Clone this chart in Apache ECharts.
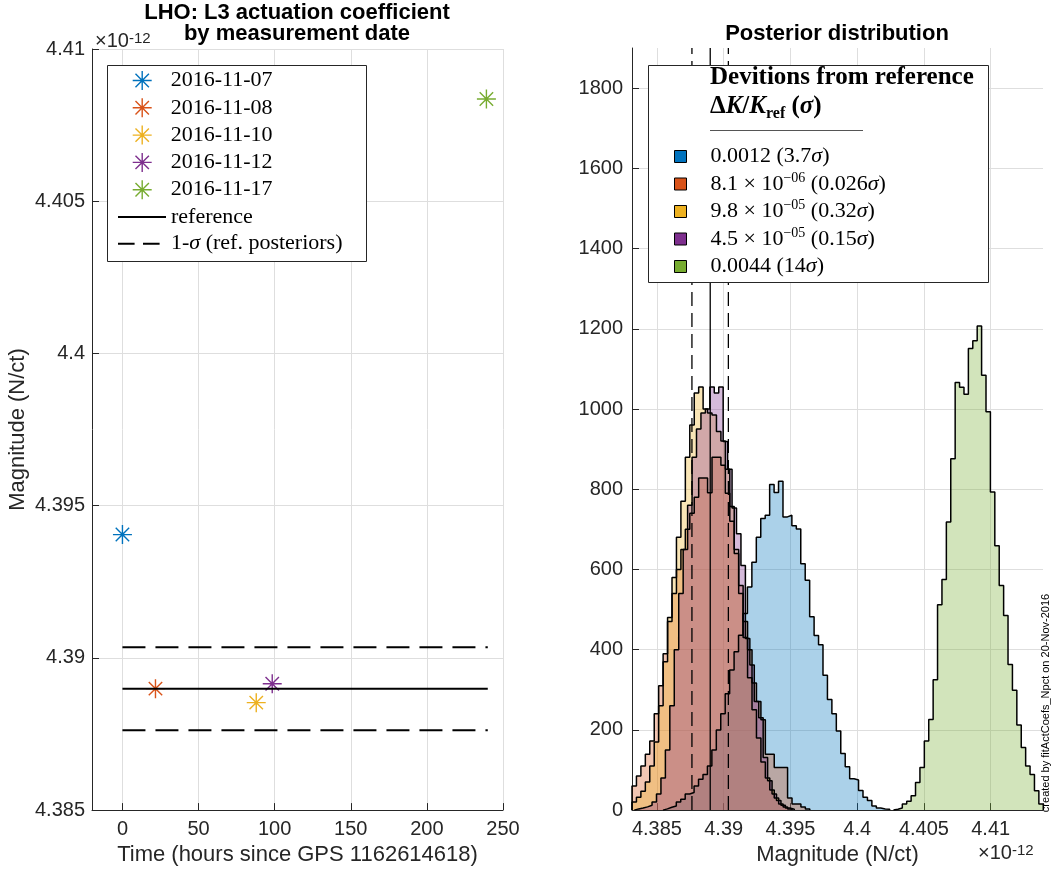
<!DOCTYPE html>
<html><head><meta charset="utf-8">
<script src="https://cdn.jsdelivr.net/npm/echarts@6/dist/echarts.min.js"></script>
<style>html,body{margin:0;padding:0;background:#fff}#c{width:1052px;height:871px}</style>
</head><body><div id="c"></div>
<script>
// ---------------- data (magnitudes in units of 1e-12 N/ct) ----------------
const dates = ['2016-11-07', '2016-11-08', '2016-11-10', '2016-11-12', '2016-11-17'];
const hours = [0, 21.7, 87.9, 98.4, 239.1];
const magnitudes = [4.39405, 4.38899, 4.38853, 4.38915, 4.40836];
const refValue = 4.38899;
const sigmaLow = 4.38762;
const sigmaHigh = 4.39035;
const refHours = [0, 240];
const leftXTicks = [0, 50, 100, 150, 200, 250];
const leftYTicks = [4.385, 4.39, 4.395, 4.4, 4.405, 4.41];
const rightXTicks = [4.385, 4.39, 4.395, 4.4, 4.405, 4.41];
const rightYTicks = [0, 200, 400, 600, 800, 1000, 1200, 1400, 1600, 1800];
const deviationNames = ['0.0012 (3.7σ)', '8.1 × 10^−06 (0.026σ)', '9.8 × 10^−05 (0.32σ)', '4.5 × 10^−05 (0.15σ)', '0.0044 (14σ)'];
const lineNames = ['reference', '1-σ (ref. posteriors)'];

// histogram bins: first bin left edge, bin width, counts per bin
const blueStart = 4.38545, blueWidth = 0.000333;
const blueCounts = [3,7,10,20,27,40,44,60,77,89,110,150,200,240,290,349,395,436,490,556,618,680,727,735,812,792,820,731,735,709,701,614,573,482,435,412,336,276,240,197,141,108,78,75,49,32,24,10,5,3,2];
const orangeStart = 4.38313, orangeWidth = 0.000333;
const orangeCounts = [60,85,110,139,172,240,310,390,470,540,600,650,700,740,780,828,828,791,880,880,860,790,720,640,560,470,400,317,271,225,139,139,106,106,106,30,15,15,8,3];
const yellowStart = 4.38313, yellowWidth = 0.000333;
const yellowCounts = [20,32,47,70,110,170,260,370,480,580,680,770,880,960,1040,1055,1000,990,985,944,920,850,757,650,540,430,330,250,180,120,80,50,30,15,8,3];
const purpleStart = 4.38330, purpleWidth = 0.000333;
const purpleCounts = [3,5,8,12,20,40,80,150,260,400,540,650,760,880,950,990,1000,1055,1040,1055,919,850,753,689,610,428,362,271,230,131,73,40,24,12,5,2];
const greenStart = 4.40272, greenWidth = 0.00033;
const greenCounts = [2,5,15,22,36,69,106,172,226,325,512,575,718,876,1066,1054,1037,1151,1170,1207,1084,993,793,659,560,485,363,299,212,156,110,89,48,15];

// ---------------- styling ----------------
const COLORS = ['#0072BD', '#D95319', '#EDB120', '#7E2F8E', '#77AC30'];
const FILLS = ['rgba(0,114,189,0.33)', 'rgba(217,83,25,0.33)', 'rgba(237,177,32,0.33)', 'rgba(126,47,142,0.33)', 'rgba(119,172,48,0.33)'];
const AX = '#262626', GRID = '#dedede';
const SANS = 'Liberation Sans', SERIF = 'Liberation Serif';
const STAR = 'path://M0,-10L0,10M-10,0L10,0M-7.07,-7.07L7.07,7.07M-7.07,7.07L7.07,-7.07';
const LEFT_DASH = [23, 10], LEGEND_DASH = [16.6, 8.4], RIGHT_DASH = [14, 7];

function histData(start, width, counts) {
  const d = [[start, 0]];
  counts.forEach((c, i) => d.push([start + i * width, c]));
  d.push([start + counts.length * width, 0]);
  return d;
}
const hists = [
  [blueStart, blueWidth, blueCounts],
  [orangeStart, orangeWidth, orangeCounts],
  [yellowStart, yellowWidth, yellowCounts],
  [purpleStart, purpleWidth, purpleCounts],
  [greenStart, greenWidth, greenCounts]
];
const fmt3 = v => String(+(+v).toFixed(3));

function axisCommon(grid, ticks, fmt, margin) {
  return {
    type: 'value', gridIndex: grid,
    axisLine: { show: true, onZero: false, lineStyle: { color: AX, width: 1 } },
    axisTick: { show: true, inside: true, length: 7, customValues: ticks, lineStyle: { color: AX } },
    axisLabel: { customValues: ticks, formatter: fmt, color: AX, fontSize: 20, fontFamily: SANS, margin: margin },
    splitLine: { show: true, lineStyle: { color: GRID, width: 1 } }
  };
}

const series = [];
// left plot: reference lines
series.push({ name: lineNames[0], type: 'line', xAxisIndex: 0, yAxisIndex: 0, symbol: 'none', animation: false,
  data: [[refHours[0], refValue], [refHours[1], refValue]], lineStyle: { color: '#000', width: 2 } });
series.push({ name: lineNames[1], type: 'line', xAxisIndex: 0, yAxisIndex: 0, symbol: 'none', animation: false,
  data: [[refHours[0], sigmaHigh], [refHours[1], sigmaHigh]], lineStyle: { color: '#000', width: 2, type: LEFT_DASH } });
series.push({ name: lineNames[1], type: 'line', xAxisIndex: 0, yAxisIndex: 0, symbol: 'none', animation: false,
  data: [[refHours[0], sigmaLow], [refHours[1], sigmaLow]], lineStyle: { color: '#000', width: 2, type: LEFT_DASH } });
// left plot: measurements
dates.forEach((d, i) => series.push({
  name: d, type: 'scatter', xAxisIndex: 0, yAxisIndex: 0, symbol: STAR, symbolSize: 19, animation: false,
  data: [[hours[i], magnitudes[i]]],
  itemStyle: { color: COLORS[i], borderColor: COLORS[i], borderWidth: 1.4, opacity: 1 }
}));
// right plot: histograms
hists.forEach((h, i) => series.push({
  name: deviationNames[i], type: 'line', step: 'end', xAxisIndex: 1, yAxisIndex: 1, symbol: 'none', animation: false,
  data: histData(h[0], h[1], h[2]),
  lineStyle: { color: '#000', width: 1.5 }, itemStyle: { color: COLORS[i] },
  areaStyle: { color: FILLS[i], opacity: 1 }
}));
// right plot: reference lines
[[refValue, 'solid'], [sigmaLow, RIGHT_DASH], [sigmaHigh, RIGHT_DASH]].forEach((r, k) => series.push({
  name: 'refR' + k, type: 'line', xAxisIndex: 1, yAxisIndex: 1, symbol: 'none', animation: false,
  data: [[r[0], 0], [r[0], 1900]], lineStyle: { color: '#000', width: 1.3, type: r[1] }
}));

const serifRich = {
  i: { fontFamily: SERIF, fontStyle: 'italic', fontSize: 22, color: '#000', lineHeight: 26 },
  sup: { fontFamily: SERIF, fontSize: 14, color: '#000', lineHeight: 14, verticalAlign: 'top' }
};
const HIDE = { color: 'rgba(0,0,0,0)', borderColor: 'rgba(0,0,0,0)', borderWidth: 0, opacity: 0 };

const option = {
  backgroundColor: '#fff',
  animation: false,
  title: [
    { text: 'LHO: L3 actuation coefficient\nby measurement date', left: 297, top: 2, textAlign: 'center', padding: 0,
      textStyle: { fontSize: 22, fontWeight: 'bold', fontFamily: SANS, color: '#000', lineHeight: 21 } },
    { text: 'Posterior distribution', left: 837, top: 23, textAlign: 'center', padding: 0,
      textStyle: { fontSize: 22, fontWeight: 'bold', fontFamily: SANS, color: '#000', lineHeight: 21 } }
  ],
  grid: [
    { left: 92, top: 49, width: 411, height: 766 },
    { left: 632, top: 48, width: 411, height: 768 }
  ],
  xAxis: [
    Object.assign(axisCommon(0, leftXTicks, v => String(v), 9), { min: -20, max: 250,
      name: 'Time (hours since GPS 1162614618)', nameLocation: 'middle', nameGap: 28,
      nameTextStyle: { fontSize: 22, fontFamily: SANS, color: AX } }),
    Object.assign(axisCommon(1, rightXTicks, fmt3, 9), { min: 4.38313, max: 4.41392,
      name: 'Magnitude (N/ct)', nameLocation: 'middle', nameGap: 26,
      nameTextStyle: { fontSize: 22, fontFamily: SANS, color: AX } })
  ],
  yAxis: [
    Object.assign(axisCommon(0, leftYTicks, fmt3, 7), { min: 4.385, max: 4.41,
      name: 'Magnitude (N/ct)', nameLocation: 'middle', nameGap: 63,
      nameTextStyle: { fontSize: 22, fontFamily: SANS, color: AX } }),
    Object.assign(axisCommon(1, rightYTicks, v => String(v), 9), { min: 0, max: 1900 })
  ],
  legend: [
    { orient: 'vertical', left: 132, top: 69.5, padding: 0, itemWidth: 19, itemHeight: 19, itemGap: 5.3, selectedMode: false, z: 60,
      data: dates.map((d, i) => ({ name: d, icon: STAR, itemStyle: { color: COLORS[i], borderColor: COLORS[i], borderWidth: 1.4 } })),
      textStyle: { fontFamily: SERIF, fontSize: 22, color: '#000', lineHeight: 22, padding: [0, 0, 0, 14] } },
    { orient: 'vertical', left: 117, top: 206, padding: 0, itemWidth: 48, itemHeight: 14, itemGap: 4.7, selectedMode: false, z: 60,
      data: [
        { name: lineNames[0], itemStyle: HIDE, lineStyle: { color: '#000', width: 2, type: 'solid' } },
        { name: lineNames[1], itemStyle: HIDE, lineStyle: { color: '#000', width: 2, type: LEGEND_DASH } }
      ],
      formatter: n => n.replace(/σ/g, '{i|σ}'),
      textStyle: { fontFamily: SERIF, fontSize: 22, color: '#000', lineHeight: 22,
        rich: { i: { fontFamily: SERIF, fontStyle: 'italic', fontSize: 22, color: '#000', lineHeight: 22 } } } },
    { orient: 'vertical', left: 674, top: 143.5, padding: 0, itemWidth: 12, itemHeight: 12, itemGap: 1.5, selectedMode: false, z: 60,
      data: deviationNames.map((n, i) => ({ name: n, icon: 'rect', itemStyle: { color: COLORS[i], borderColor: '#000', borderWidth: 1 } })),
      formatter: n => n.replace(/\^(\S+)/, '{sup|$1}').replace(/σ/g, '{i|σ}'),
      textStyle: { fontFamily: SERIF, fontSize: 22, color: '#000', lineHeight: 26, padding: [0, 0, 0, 19], rich: serifRich } }
  ],
  graphic: [
    { type: 'rect', z: 50, shape: { x: 107.5, y: 65.5, width: 259, height: 196 }, style: { fill: '#fff', stroke: '#262626', lineWidth: 1 } },
    { type: 'rect', z: 50, shape: { x: 648.5, y: 65.5, width: 340, height: 217 }, style: { fill: '#fff', stroke: '#262626', lineWidth: 1 } },
    { type: 'text', z: 61, x: 710, y: 78, style: { text: 'Devitions from reference', fontFamily: SERIF, fontWeight: 'bold', fontSize: 25, fill: '#000', verticalAlign: 'middle' } },
    { type: 'text', z: 61, x: 710, y: 107, style: {
        text: '{b|Δ}{bi|K}{b|/}{bi|K}{sub|ref}{b| (}{bi|σ}{b|)}', verticalAlign: 'middle',
        rich: {
          b: { fontFamily: SERIF, fontWeight: 'bold', fontSize: 25, fill: '#000', lineHeight: 30 },
          bi: { fontFamily: SERIF, fontWeight: 'bold', fontStyle: 'italic', fontSize: 25, fill: '#000', lineHeight: 30 },
          sub: { fontFamily: SERIF, fontWeight: 'bold', fontSize: 16, fill: '#000', lineHeight: 16, verticalAlign: 'bottom' }
        } } },
    { type: 'line', z: 61, shape: { x1: 710, y1: 130.5, x2: 863, y2: 130.5 }, style: { stroke: '#555', lineWidth: 1 } },
    { type: 'text', z: 61, x: 95, y: 41, style: {
        text: '×10{s|-12}', fontFamily: SANS, fontSize: 20, fill: AX, verticalAlign: 'middle',
        rich: { s: { fontFamily: SANS, fontSize: 15, fill: AX, lineHeight: 15, verticalAlign: 'top' } } } },
    { type: 'text', z: 61, x: 978, y: 853, style: {
        text: '×10{s|-12}', fontFamily: SANS, fontSize: 20, fill: AX, verticalAlign: 'middle',
        rich: { s: { fontFamily: SANS, fontSize: 15, fill: AX, lineHeight: 15, verticalAlign: 'top' } } } },
    { type: 'text', z: 61, x: 1046, y: 703, rotation: Math.PI / 2, style: {
        text: 'created by fitActCoefs_Npct on 20-Nov-2016', fontFamily: SANS, fontSize: 11, fill: '#000', align: 'center', verticalAlign: 'middle' } }
  ],
  series: series
};
const chart = echarts.init(document.getElementById('c'), null, { renderer: 'canvas' });
chart.setOption(option);
</script>
</body></html>
